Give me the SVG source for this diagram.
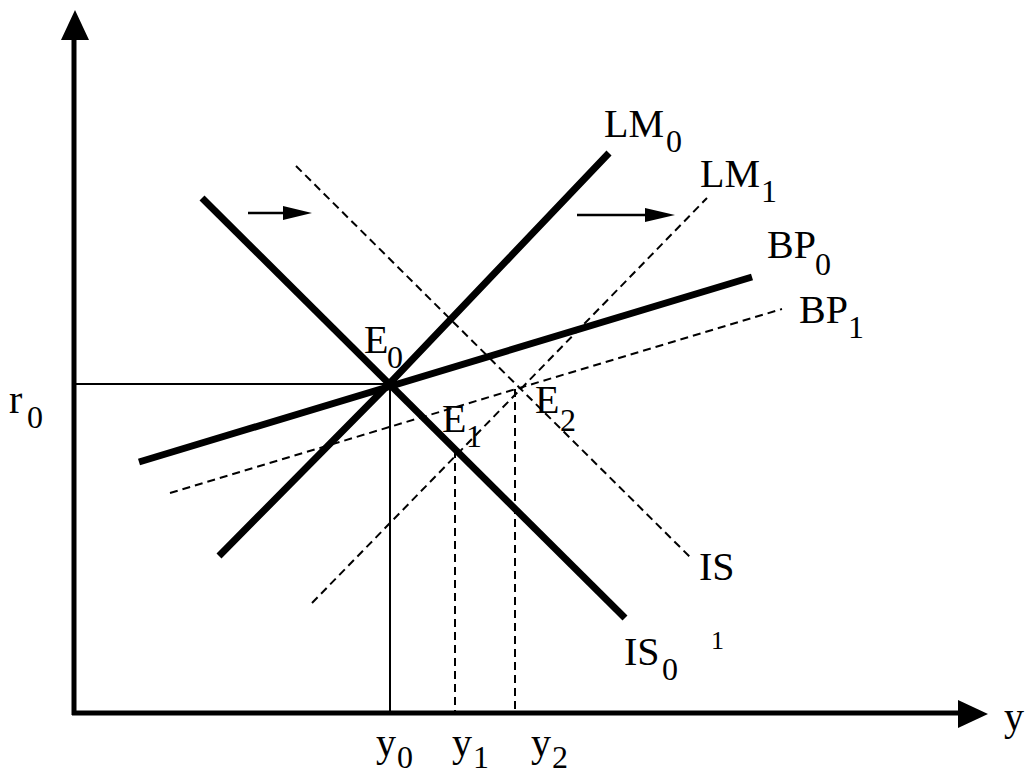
<svg xmlns="http://www.w3.org/2000/svg" width="1025" height="776" viewBox="0 0 1025 776">
<style>
.axis{stroke:#000;stroke-width:5;fill:none}
.thick{stroke:#000;stroke-width:7;fill:none;stroke-linecap:butt}
.dash{stroke:#000;stroke-width:2;fill:none;stroke-dasharray:8 5}
.thin{stroke:#000;stroke-width:2;fill:none}
.shift{stroke:#000;stroke-width:2.5;fill:none}
.head{fill:#000}
text{font-family:"Liberation Serif","Times New Roman",serif;fill:#000}
.lb{font-size:40px}
.sb{font-size:32px}
</style>
<rect width="1025" height="776" fill="#fff"/>
<g id="axes">
<line class="axis" x1="74" y1="715" x2="74" y2="36"/>
<polygon class="head" points="75,10 61,40 89,40"/>
<line class="axis" x1="72" y1="713" x2="962" y2="713"/>
<polygon class="head" points="988,714 958,700 958,728"/>
</g>
<g id="connectors">
<g id="guides">
<line class="thin" x1="76" y1="384" x2="390" y2="384"/>
<line class="thin" x1="390" y1="384" x2="390" y2="711"/>
<line class="dash" x1="455" y1="450" x2="455" y2="711"/>
<line class="dash" x1="515" y1="389" x2="515" y2="711"/>
</g>
<g id="IS1"><line class="dash" x1="296" y1="166" x2="690" y2="557"/></g>
<g id="LM1"><line class="dash" x1="312" y1="603" x2="707" y2="198"/></g>
<g id="BP1"><line class="dash" x1="170" y1="493" x2="782" y2="309"/></g>
<g id="IS0"><line class="thick" x1="202" y1="198" x2="625" y2="618"/></g>
<g id="LM0"><path class="thick" d="M219,556 L390,383 L609,153"/></g>
<g id="BP0"><line class="thick" x1="139" y1="462" x2="752" y2="277"/></g>
<g id="shift-arrows">
<line class="shift" x1="248" y1="213" x2="290" y2="213"/>
<polygon class="head" points="312,213 283,206 283,220"/>
<line class="shift" x1="577" y1="215" x2="650" y2="215"/>
<polygon class="head" points="675,215 645,208 645,222"/>
</g>
</g>
<g id="label-LM0"><text class="lb" x="604" y="137">LM</text><text class="sb" x="666" y="152">0</text></g>
<g id="label-LM1"><text class="lb" x="700" y="187">LM</text><text class="sb" x="761" y="202">1</text></g>
<g id="label-BP0"><text class="lb" x="767" y="258">BP</text><text class="sb" x="815" y="275">0</text></g>
<g id="label-BP1"><text class="lb" x="799" y="323">BP</text><text class="sb" x="848" y="338">1</text></g>
<g id="label-E0"><text class="lb" x="364" y="353">E</text><text class="sb" x="387" y="368">0</text></g>
<g id="label-E1"><text class="lb" x="442" y="432">E</text><text class="sb" x="466" y="447">1</text></g>
<g id="label-E2"><text class="lb" x="535" y="413">E</text><text class="sb" x="560" y="431">2</text></g>
<g id="label-IS"><text class="lb" x="699" y="580">IS</text></g>
<g id="label-IS0"><text class="lb" x="624" y="665">IS</text><text class="sb" x="662" y="680">0</text><text style="font-size:26px" x="711" y="649">1</text></g>
<g id="label-r0"><text class="lb" x="9" y="413">r</text><text class="sb" x="27" y="428">0</text></g>
<g id="label-y0"><text class="lb" x="376" y="756">y</text><text class="sb" x="397" y="768">0</text></g>
<g id="label-y1"><text class="lb" x="452" y="756">y</text><text class="sb" x="473" y="768">1</text></g>
<g id="label-y2"><text class="lb" x="531" y="756">y</text><text class="sb" x="552" y="768">2</text></g>
<g id="label-y"><text class="lb" x="1004" y="730">y</text></g>
</svg>
